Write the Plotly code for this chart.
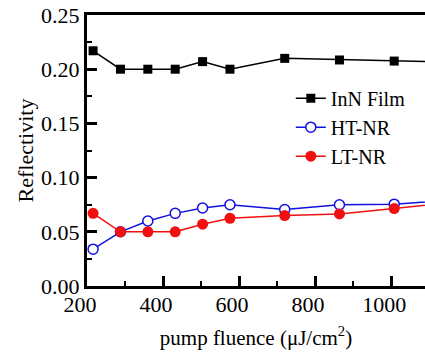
import plotly.graph_objects as go

fluence = [216, 288, 360, 432, 504, 576, 720, 864, 1008, 1152]
inn_film = [0.217, 0.200, 0.200, 0.200, 0.207, 0.200, 0.210, 0.2085, 0.2075, 0.2065]
ht_nr = [0.034, 0.050, 0.060, 0.067, 0.072, 0.075, 0.0705, 0.075, 0.0755, 0.079]
lt_nr = [0.067, 0.050, 0.050, 0.050, 0.057, 0.0625, 0.065, 0.0665, 0.0715, 0.077]

x_ticks = [200, 400, 600, 800, 1000]
y_ticks = [0.00, 0.05, 0.10, 0.15, 0.20, 0.25]

FONT = "Liberation Serif, Times New Roman, serif"

fig = go.Figure()
fig.add_trace(go.Scatter(
    x=fluence, y=inn_film, name="InN Film", mode="lines+markers",
    line=dict(color="black", width=1.5),
    marker=dict(symbol="square", size=9, color="black")))
fig.add_trace(go.Scatter(
    x=fluence, y=ht_nr, name="HT-NR", mode="lines+markers",
    line=dict(color="#1010e0", width=1.5),
    marker=dict(symbol="circle", size=10, color="white",
                line=dict(color="#1010e0", width=1.5))))
fig.add_trace(go.Scatter(
    x=fluence, y=lt_nr, name="LT-NR", mode="lines+markers",
    line=dict(color="#f01010", width=1.5),
    marker=dict(symbol="circle", size=11, color="#f01010")))

fig.update_layout(
    width=425, height=354,
    margin=dict(l=87, r=0, t=15, b=68),
    paper_bgcolor="white", plot_bgcolor="white",
    font=dict(family=FONT, size=22, color="black"),
    showlegend=True,
    legend=dict(x=0.603, y=0.765, xanchor="left", yanchor="top",
                bgcolor="rgba(0,0,0,0)", font=dict(size=20, family=FONT),
                itemwidth=30, tracegroupgap=0),
    xaxis=dict(
        range=[200, 1089], tickvals=x_ticks,
        ticks="inside", ticklen=10, tickwidth=2.5, tickcolor="black",
        minor=dict(dtick=100, ticks="inside", ticklen=5, tickwidth=2, tickcolor="black"),
        showline=True, linewidth=3, linecolor="black", mirror=True,
        showgrid=False, zeroline=False,
        ticklabelshift=-7, ticklabelstandoff=-3, ticklabeloverflow="allow",
        tickfont=dict(size=22, family=FONT),
        title=dict(text="pump fluence (\u03bcJ/cm<sup>2</sup>)", font=dict(size=21, family=FONT), standoff=14),
    ),
    yaxis=dict(
        range=[0, 0.25], tickvals=y_ticks, tickformat=".2f",
        ticks="inside", ticklen=10, tickwidth=2.5, tickcolor="black",
        minor=dict(dtick=0.025, ticks="inside", ticklen=5, tickwidth=2, tickcolor="black"),
        showline=True, linewidth=3, linecolor="black", mirror=False,
        showgrid=False, zeroline=False, ticklabeloverflow="allow",
        tickfont=dict(size=22, family=FONT),
        title=dict(text="Reflectivity", font=dict(size=22, family=FONT), standoff=2),
    ),
)

fig.write_html(
    "out.html",
    config={"displayModeBar": False},
    post_script="document.body.style.margin='0';document.body.style.overflow='hidden';",
)
